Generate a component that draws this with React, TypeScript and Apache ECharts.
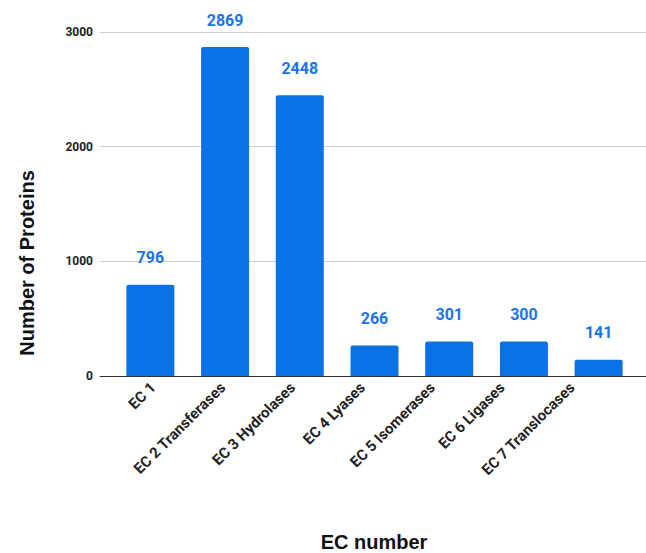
import React, { useEffect, useRef } from "react";
import * as echarts from "echarts";

const categories = [
  "EC 1",
  "EC 2 Transferases",
  "EC 3 Hydrolases",
  "EC 4 Lyases",
  "EC 5 Isomerases",
  "EC 6 Ligases",
  "EC 7 Translocases",
];
const proteinCounts = [796, 2869, 2448, 266, 301, 300, 141];
const yTicks = { min: 0, max: 3000, interval: 1000 };

export default function App() {
  const ref = useRef<HTMLDivElement>(null);
  useEffect(() => {
    if (!ref.current) return;
    const chart = echarts.init(ref.current, null, { renderer: "svg" });
    const hiddenValueY = (gridIndex: number) => ({
      type: "value",
      gridIndex,
      min: yTicks.min,
      max: yTicks.max,
      interval: yTicks.interval,
      axisLine: { show: false },
      axisTick: { show: false },
      splitLine: { show: false },
      axisLabel: { show: false },
    });
    chart.setOption({
      animation: false,
      backgroundColor: "#ffffff",
      grid: [
        { left: 100, right: 0, top: 32, bottom: 553 - 376 },
        { left: 113, right: 10, top: 32, bottom: 553 - 376 },
        { left: 118, right: 39, top: 32, bottom: 553 - 376 },
      ],
      xAxis: [
        {
          type: "value",
          gridIndex: 0,
          min: 0,
          max: 1,
          axisLine: { show: true, lineStyle: { color: "#333333", width: 1 } },
          axisTick: { show: false },
          axisLabel: { show: false },
          splitLine: { show: false },
        },
        {
          type: "category",
          gridIndex: 1,
          data: categories,
          axisLine: { show: false },
          axisTick: { show: false },
          splitLine: { show: false },
          axisLabel: { show: false },
        },
        {
          type: "category",
          gridIndex: 2,
          data: categories,
          axisLine: { show: false },
          axisTick: { show: false },
          splitLine: { show: false },
          axisLabel: {
            rotate: 45,
            interval: 0,
            margin: 9,
            fontFamily: "Roboto",
            fontWeight: "bold",
            fontSize: 15,
            color: "#222222",
          },
        },
      ],
      yAxis: [
        {
          type: "value",
          gridIndex: 0,
          min: yTicks.min,
          max: yTicks.max,
          interval: yTicks.interval,
          axisLine: { show: false },
          axisTick: { show: false },
          splitLine: { show: true, lineStyle: { color: "#cccccc", width: 1 } },
          axisLabel: {
            margin: 7,
            formatter: (v: number) => String(v),
            fontFamily: "Roboto",
            fontWeight: "bold",
            fontSize: 12,
            color: "#222222",
          },
        },
        hiddenValueY(1),
        hiddenValueY(2),
      ],
      series: [
        {
          type: "bar",
          xAxisIndex: 1,
          yAxisIndex: 1,
          data: proteinCounts,
          barWidth: 48,
          itemStyle: { color: "#0b72e5", borderRadius: [2, 2, 0, 0] },
          label: {
            show: true,
            position: "top",
            distance: 19,
            fontFamily: "Roboto",
            fontWeight: "bold",
            fontSize: 16,
            color: "#1a73e8",
          },
        },
      ],
      graphic: [
        {
          type: "text",
          x: 27,
          y: 263,
          rotation: Math.PI / 2,
          style: {
            text: "Number of Proteins",
            font: "bold 20px 'Liberation Sans', Arial, sans-serif",
            fill: "#111111",
            align: "center",
            verticalAlign: "middle",
          },
        },
        {
          type: "text",
          x: 374,
          y: 542,
          style: {
            text: "EC number",
            font: "bold 20px 'Liberation Sans', Arial, sans-serif",
            fill: "#111111",
            align: "center",
            verticalAlign: "middle",
          },
        },
      ],
    });
    return () => chart.dispose();
  }, []);
  return <div ref={ref} style={{ width: 646, height: 553, position: "fixed", left: 0, top: 0 }} />;
}
